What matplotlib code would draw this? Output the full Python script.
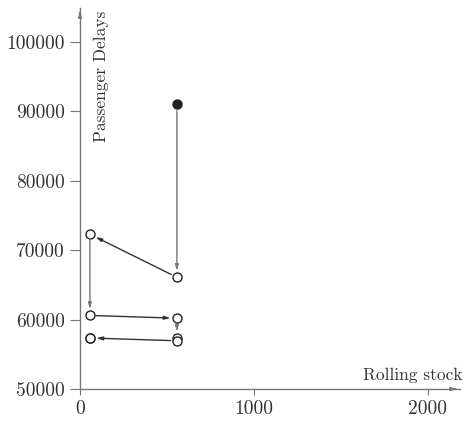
import matplotlib
matplotlib.use("Agg")
import matplotlib.pyplot as plt

plt.rcParams['font.family'] = ['cmr10', 'DejaVu Serif']
plt.rcParams['axes.formatter.use_mathtext'] = True
plt.rcParams['mathtext.fontset'] = 'cm'

# Iteration path (rolling stock, passenger delays)
rolling_stock = [557, 557, 57, 57, 557, 557, 557, 57, 57]
delays = [91000, 66100, 72300, 60600, 60200, 57350, 56950, 57350, 57300]
filled = [True, False, False, False, False, False, False, False, False]

xticks = [0, 1000, 2000]
yticks = [50000, 60000, 70000, 80000, 90000, 100000]

fig = plt.figure(figsize=(4.63, 4.23), dpi=100)
ax = fig.add_axes([80/463, 1 - 389/423, 380/463, 381/423])
ax.set_xlim(0, 2185)
ax.set_ylim(50000, 104900)

for s in ['top', 'right']:
    ax.spines[s].set_visible(False)
for s in ['left', 'bottom']:
    ax.spines[s].set_color('#777777')
    ax.spines[s].set_linewidth(1.0)

ax.set_xticks(xticks)
ax.set_yticks(yticks)
ax.set_xticklabels([str(v) for v in xticks])
ax.set_yticklabels([str(v) for v in yticks])
ax.tick_params(axis='y', direction='out', length=7, color='#777777', labelsize=14, pad=4)
ax.tick_params(axis='x', direction='out', length=4, color='#777777', labelsize=14, pad=4)
for lab in ax.get_xticklabels() + ax.get_yticklabels():
    lab.set_color('#333333')

# axis arrows
ax.annotate('', xy=(1.0, 0), xytext=(0.98, 0), xycoords='axes fraction',
            arrowprops=dict(arrowstyle='-|>,head_length=0.35,head_width=0.1', color='#777777', lw=1.0))
ax.annotate('', xy=(0, 1.0), xytext=(0, 0.98), xycoords='axes fraction',
            arrowprops=dict(arrowstyle='-|>,head_length=0.35,head_width=0.1', color='#777777', lw=1.0))

# arrows between consecutive points
for i in range(len(rolling_stock) - 1):
    x0, y0 = rolling_stock[i], delays[i]
    x1, y1 = rolling_stock[i + 1], delays[i + 1]
    if abs(x1 - x0) < 1 and abs(y1 - y0) < 1000:
        continue
    col = '#777777' if abs(x1 - x0) < 1 else '#333333'
    ax.annotate('', xy=(x1, y1), xytext=(x0, y0),
                arrowprops=dict(arrowstyle='-|>,head_length=0.35,head_width=0.1',
                                color=col, lw=1.0, shrinkA=4.5, shrinkB=4.5))

for x, y, f in zip(rolling_stock, delays, filled):
    ax.plot([x], [y], marker='o', markersize=6.5, markeredgewidth=1.0,
            markeredgecolor='#222222', markerfacecolor='#222222' if f else 'white',
            zorder=5, clip_on=False)

ax.text(78, 104500, 'Passenger Delays', rotation=90, ha='left', va='top',
        fontsize=12.5, color='#333333')
ax.text(2200, 50900, 'Rolling stock', ha='right', va='bottom',
        fontsize=12.5, color='#333333')

fig.savefig('out.png', dpi=100)
